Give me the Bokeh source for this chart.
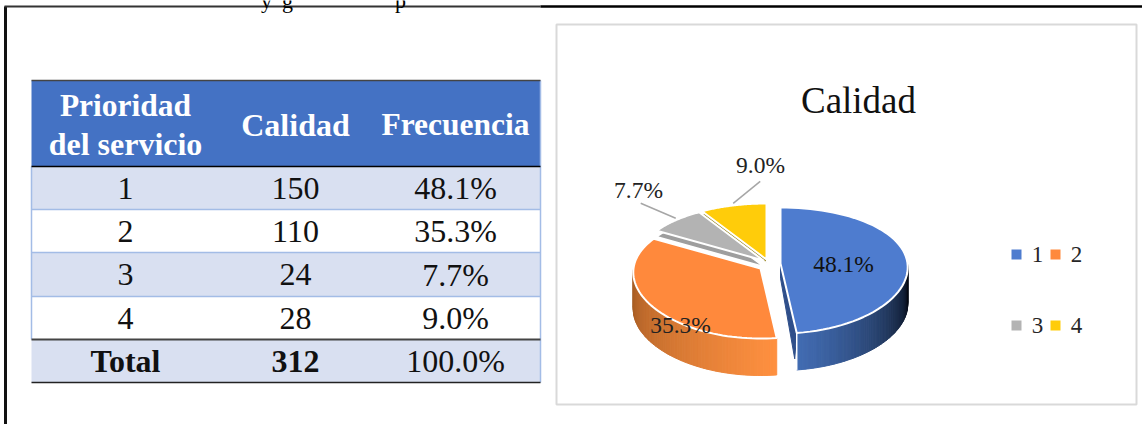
import math
from bokeh.embed import file_html
from bokeh.models import Range1d
from bokeh.plotting import figure
from bokeh.resources import INLINE
from bokeh.core.properties import value

# ---- data ----
table_head = ["Prioridad\ndel servicio", "Calidad", "Frecuencia"]
categories = ["1", "2", "3", "4"]
frequency = [150, 110, 24, 28]
percent_labels = ["48.1%", "35.3%", "7.7%", "9.0%"]
total_row = ["Total", "312", "100.0%"]
chart_title = "Calidad"

# ---- styles and layout ----
SERIF = value("Liberation Serif")
W, H = 1142, 424
col_x = [125, 295, 455]
row_edges = [80, 166, 209, 252, 296, 339, 382]
T_L, T_R = 31, 540
colors = ["#4E7CCF", "#FF893C", "#B3B3B3", "#FFCC0A"]
apex = [(780, 263), (760, 268), (763, 260), (766, 259)]
RX, RY, RB, K = 127, 63, 7, 0.06
DEPTH = 37

p = figure(width=W, height=H, output_backend="svg", toolbar_location=None,
           x_range=Range1d(0, W), y_range=Range1d(H, 0),
           x_axis_type=None, y_axis_type=None, min_border=0,
           outline_line_color=None, background_fill_color="white",
           border_fill_color="white")
p.grid.visible = False


def T(x, y, s, size, color="black", style="normal", align="center", base="middle"):
    p.text([x], [y], [s], text_font=SERIF, text_font_size=f"{size}px", text_color=color,
           text_font_style=style, text_align=align, text_baseline=base)


# page frame
p.line([5, 5], [6, H], line_color="#111111", line_width=3)
p.line([4, 540], [6, 6], line_color="#333333", line_width=2)
p.line([540, W], [6, 6], line_color="#000000", line_width=2.5)
T(266, 0, "y", 22, base="alphabetic")
T(287, 0, "g", 22, base="alphabetic")
T(400, 0, "p", 22, base="alphabetic")

# table
p.quad(left=[T_L], right=[T_R], top=[row_edges[0]], bottom=[row_edges[1]], fill_color="#4472C4", line_color=None)
for i in range(1, 6):
    fill = "#D9E0F1" if i % 2 == 1 else "white"
    p.quad(left=[T_L], right=[T_R], top=[row_edges[i]], bottom=[row_edges[i + 1]], fill_color=fill, line_color=None)
for y in row_edges[2:5]:
    p.line([T_L, T_R], [y, y], line_color="#A3BCE6", line_width=1.5)
p.line([T_L, T_L], row_edges[1:6:4], line_color="#A3BCE6", line_width=1.5)
p.line([T_R, T_R], [row_edges[0], row_edges[-1]], line_color="#A3BCE6", line_width=1.5)
p.line([T_L, T_R], [row_edges[0]] * 2, line_color="#444444", line_width=1.5)
p.line([T_L, T_R], [row_edges[1]] * 2, line_color="#000000", line_width=1.5)
p.line([T_L, T_R], [row_edges[5]] * 2, line_color="#444444", line_width=2)
p.line([T_L, T_R], [row_edges[6]] * 2, line_color="#222222", line_width=1.5)

head_a, head_b = table_head[0].split("\n")
T(col_x[0], 105, head_a, 31.5, "white", "bold")
T(col_x[0], 143, head_b, 32, "white", "bold")
T(col_x[1], 124, table_head[1], 32, "white", "bold")
T(col_x[2], 124, table_head[2], 31.5, "white", "bold")
for i, (c, f, l) in enumerate(zip(categories, frequency, percent_labels)):
    y = (row_edges[i + 1] + row_edges[i + 2]) / 2
    T(col_x[0], y, c, 32, "#111111")
    T(col_x[1], y, str(f), 32, "#111111")
    T(col_x[2], y, l, 32, "#111111")
y = (row_edges[5] + row_edges[6]) / 2
T(col_x[0], y, total_row[0], 32, "#111111", style="bold")
T(col_x[1], y, total_row[1], 32, "#111111", style="bold")
T(col_x[2], y, total_row[2], 32, "#111111")

# chart panel
p.quad(left=[556], right=[1136], top=[24], bottom=[404], fill_color="white", line_color="#D9D9D9", line_width=2)
T(858, 100, chart_title, 37, "#111111")


# 3-D pie: angles derive from the values
def pt(i, th):
    ax, ay = apex[i]
    s, c = math.sin(th), math.cos(th)
    return ax + RX * s * (1 - K * c), ay - c * (RY - RB * c)


def arc(i, a, b, n=60):
    return [pt(i, a + (b - a) * j / n) for j in range(n + 1)]


def mix(c1, c2, t):
    v = [round(x + (y - x) * t) for x, y in zip(c1, c2)]
    return "#%02x%02x%02x" % tuple(v)


total = sum(frequency)
bounds = [0.0]
for f in frequency:
    bounds.append(bounds[-1] + f / total * 2 * math.pi)


def wall(i, a, b, c_a, c_b, n=70, power=1.3):
    pts = arc(i, a, b, n)
    xs, ys, cs = [], [], []
    for j in range(n):
        (x0, y0), (x1, y1) = pts[j], pts[j + 1]
        xs.append([x0, x1, x1, x0])
        ys.append([y0, y1, y1 + DEPTH, y0 + DEPTH])
        cs.append(mix(c_a, c_b, ((j + .5) / n) ** power))
    p.patches(xs, ys, fill_color=cs, line_color=cs, line_width=1)


def top(i, fill=None, dy=0, lw=2):
    pts = arc(i, bounds[i], bounds[i + 1])
    ax, ay = apex[i]
    p.patch([ax] + [q[0] for q in pts], [ay + dy] + [q[1] + dy for q in pts],
            fill_color=fill or colors[i], line_color="white", line_width=lw)


# orange wall, front-left part (from the hidden leftmost side to the cut)
wall(1, 1.5 * math.pi, bounds[1], (0x9A, 0x55, 0x20), (0xFF, 0x90, 0x40), power=0.8)
# blue cut wall and outer wall
rim = pt(0, bounds[1])
p.patch([apex[0][0], rim[0], rim[0] - 2, apex[0][0]],
        [apex[0][1], rim[1], rim[1] + DEPTH * .7, apex[0][1] + DEPTH * .4],
        fill_color="#2F4F8A", line_color="#2F4F8A")
wall(0, bounds[1], 0.5 * math.pi, (0x42, 0x6C, 0xB2), (0x04, 0x08, 0x10), power=1.2)
p.line([rim[0], rim[0]], [rim[1], rim[1] + DEPTH], line_color="white", line_width=1.5)

top(3, "#9C8A2A", dy=3, lw=1)
top(2, "#9E9E9E", dy=6, lw=1.5)
top(1)
top(2)
top(3)
top(0)

# leader lines
for i, (dx, dy) in {2: (-35, -15), 3: (27, -22)}.items():
    sx, sy = pt(i, (bounds[i] + bounds[i + 1]) / 2)
    sy -= 2
    p.line([sx, sx + dx], [sy, sy + dy], line_color="#A6A6A6", line_width=1.5)

T(843, 263, percent_labels[0], 23.5, "#111111")
T(680, 324, percent_labels[1], 23.5, "#222222")
T(638, 189, percent_labels[2], 23.5, "#222222")
T(760, 164, percent_labels[3], 23.5, "#222222")

# legend
legend_pos = [(1016, 254), (1055, 254), (1016, 325), (1055, 325)]
for (x, y), c, cat in zip(legend_pos, colors, categories):
    p.scatter([x], [y], marker="square", size=10, fill_color=c, line_color=None)
    T(x + 21, y, cat, 23, "#262626")

open("out.html", "w").write(file_html(p, INLINE))
